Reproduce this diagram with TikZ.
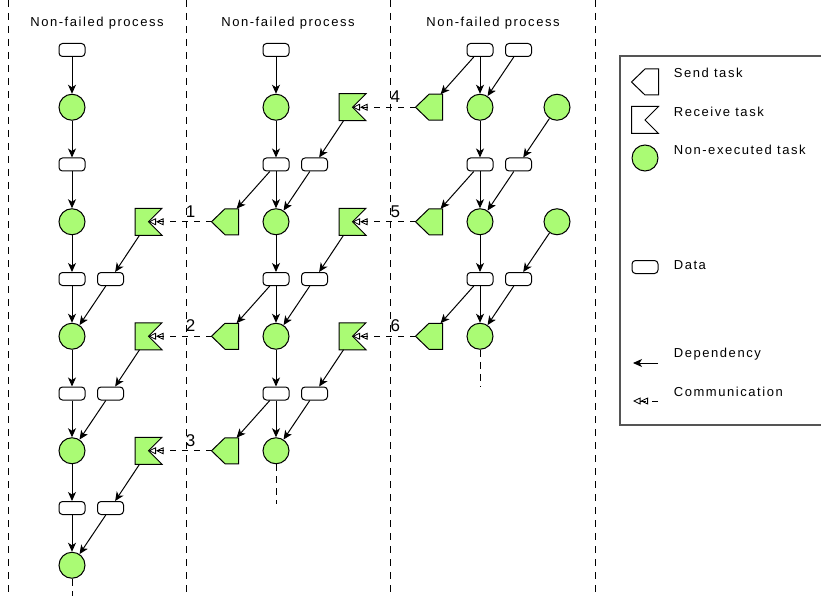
\documentclass[tikz,border=0pt]{standalone}
\usepackage{fontspec}
\setmainfont{Liberation Sans}[LetterSpace=12]
\usepackage{tikz}
\usetikzlibrary{positioning, arrows.meta}
\definecolor{taskfill}{HTML}{AAFB74}
\definecolor{legborder}{HTML}{555555}
\newcommand{\sendshape}[2][taskfill]{\draw[fill=#1] (#2.west) -- (#2.north) -- (#2.north east) -- (#2.south east) -- (#2.south) -- cycle;}
\newcommand{\recvshape}[2][taskfill]{\draw[fill=#1] (#2.north west) -- (#2.north east) -- (#2.center) -- (#2.south east) -- (#2.south west) -- cycle;}

\begin{document}
\begin{tikzpicture}[
    x=1pt, y=-1pt,
    line width=1pt,
    >={Stealth[length=9pt, width=8pt, inset=2.5pt]},
    node distance=36.75pt and 11.5pt,
    task/.style={circle, draw, fill=taskfill, minimum size=26pt, inner sep=0pt},
    dat/.style={draw, rounded corners=3.5pt, minimum width=26pt, minimum height=13pt, inner sep=0pt},
    sendbox/.style={minimum width=26pt, minimum height=25pt, inner sep=0pt},
    recvbox/.style={minimum width=26pt, minimum height=26pt, inner sep=0pt},
    sep/.style={line width=1pt, dash pattern=on 7pt off 6pt},
    tail/.style={line width=1pt, dash pattern=on 7pt off 5pt},
    dep/.style={->},
    comm/.style={-{Triangle[open, length=7.5pt, width=7pt, line width=0.8pt] Triangle[open, length=7.5pt, width=7pt, line width=0.8pt]}, dash pattern=on 6pt off 6pt},
    title/.style={font=\fontsize{13}{15}\selectfont},
    legtext/.style={font=\fontsize{13}{15}\selectfont, anchor=west},
    num/.style={font=\fontsize{17}{19}\selectfont\addfontfeature{LetterSpace=0}, inner sep=0pt},
]
\useasboundingbox (0,0) rectangle (821,596);

% process lanes
\draw[sep] (8,0) -- (8,596);
\draw[sep] (186,0) -- (186,596);
\draw[sep] (390,0) -- (390,596);
\draw[sep] (595,0) -- (595,596);
\node[title] (t1) at (97,23.5) {Non-failed process};
\node[title] (t2) at (288,23.5) {Non-failed process};
\node[title] (t3) at (493,23.5) {Non-failed process};

% process 1
\node[dat] (d10) at (72,50) {};
\node[task, below=of d10] (c11) {};
\node[dat, below=of c11] (d12) {};
\node[task, below=of d12] (c13) {};
\node[recvbox, right=49.5pt of c13] (r13) {};
\node[dat, below=of c13] (d14) {};
\node[dat, right=of d14] (e14) {};
\node[task, below=of d14] (c15) {};
\node[recvbox, right=49.5pt of c15] (r15) {};
\node[dat, below=of c15] (d16) {};
\node[dat, right=of d16] (e16) {};
\node[task, below=of d16] (c17) {};
\node[recvbox, right=49.5pt of c17] (r17) {};
\node[dat, below=of c17] (d18) {};
\node[dat, right=of d18] (e18) {};
\node[task, below=of d18] (c19) {};
\recvshape{r13}
\recvshape{r15}
\recvshape{r17}

\draw[dep] (d10) -- (c11);
\draw[dep] (c11) -- (d12);
\draw[dep] (d12) -- (c13);
\draw[dep] (c13) -- (d14);
\draw[dep] (r13) -- (e14);
\draw[dep] (d14) -- (c15);
\draw[dep] (e14) -- (c15);
\draw[dep] (c15) -- (d16);
\draw[dep] (r15) -- (e16);
\draw[dep] (d16) -- (c17);
\draw[dep] (e16) -- (c17);
\draw[dep] (c17) -- (d18);
\draw[dep] (r17) -- (e18);
\draw[dep] (d18) -- (c19);
\draw[dep] (e18) -- (c19);
\coordinate[below=17pt of c19.south] (end1);
\draw[tail] (c19) -- (end1);

% process 2
\node[dat] (d20) at (276,50) {};
\node[task, below=of d20] (c21) {};
\node[recvbox, right=49.5pt of c21] (r21) {};
\node[dat, below=of c21] (d22) {};
\node[dat, right=of d22] (e22) {};
\node[task, below=of d22] (c23) {};
\node[sendbox, left=24pt of c23] (s23) {};
\node[recvbox, right=49.5pt of c23] (r23) {};
\node[dat, below=of c23] (d24) {};
\node[dat, right=of d24] (e24) {};
\node[task, below=of d24] (c25) {};
\node[sendbox, left=24pt of c25] (s25) {};
\node[recvbox, right=49.5pt of c25] (r25) {};
\node[dat, below=of c25] (d26) {};
\node[dat, right=of d26] (e26) {};
\node[task, below=of d26] (c27) {};
\node[sendbox, left=24pt of c27] (s27) {};
\sendshape{s23}
\sendshape{s25}
\sendshape{s27}
\recvshape{r21}
\recvshape{r23}
\recvshape{r25}

\draw[dep] (d20) -- (c21);
\draw[dep] (c21) -- (d22);
\draw[dep] (r21) -- (e22);
\draw[dep] (d22) -- (s23);
\draw[dep] (d22) -- (c23);
\draw[dep] (e22) -- (c23);
\draw[dep] (c23) -- (d24);
\draw[dep] (r23) -- (e24);
\draw[dep] (d24) -- (s25);
\draw[dep] (d24) -- (c25);
\draw[dep] (e24) -- (c25);
\draw[dep] (c25) -- (d26);
\draw[dep] (r25) -- (e26);
\draw[dep] (d26) -- (s27);
\draw[dep] (d26) -- (c27);
\draw[dep] (e26) -- (c27);
\coordinate[below=40pt of c27.south] (end2);
\draw[tail] (c27) -- (end2);

% process 3
\node[dat] (d30) at (480,50) {};
\node[dat, right=of d30] (e30) {};
\node[task, below=of d30] (c31) {};
\node[sendbox, left=24pt of c31] (s31) {};
\node[task, right=50pt of c31] (f31) {};
\node[dat, below=of c31] (d32) {};
\node[dat, right=of d32] (e32) {};
\node[task, below=of d32] (c33) {};
\node[sendbox, left=24pt of c33] (s33) {};
\node[task, right=50pt of c33] (f33) {};
\node[dat, below=of c33] (d34) {};
\node[dat, right=of d34] (e34) {};
\node[task, below=of d34] (c35) {};
\node[sendbox, left=24pt of c35] (s35) {};
\sendshape{s31}
\sendshape{s33}
\sendshape{s35}

\draw[dep] (d30) -- (s31);
\draw[dep] (d30) -- (c31);
\draw[dep] (e30) -- (c31);
\draw[dep] (c31) -- (d32);
\draw[dep] (f31) -- (e32);
\draw[dep] (d32) -- (s33);
\draw[dep] (d32) -- (c33);
\draw[dep] (e32) -- (c33);
\draw[dep] (c33) -- (d34);
\draw[dep] (f33) -- (e34);
\draw[dep] (d34) -- (s35);
\draw[dep] (d34) -- (c35);
\draw[dep] (e34) -- (c35);
\coordinate[below=37pt of c35.south] (end3);
\draw[tail] (c35) -- (end3);

% messages
\draw[comm] (s23.west) -- node[num, pos=0.33, above=4pt] {1} (r13.center);
\draw[comm] (s25.west) -- node[num, pos=0.33, above=4pt] {2} (r15.center);
\draw[comm] (s27.west) -- node[num, pos=0.33, above=4pt] {3} (r17.center);
\draw[comm] (s31.west) -- node[num, pos=0.32, above=4pt] {4} (r21.center);
\draw[comm] (s33.west) -- node[num, pos=0.32, above=4pt] {5} (r23.center);
\draw[comm] (s35.west) -- node[num, pos=0.32, above=4pt] {6} (r25.center);

% legend
\draw[legborder, line width=1.3pt] (620,56) rectangle (830,425);
\node[sendbox] (lsend) at (645,82) {};
\sendshape[white]{lsend}
\node[legtext] (lsendt) at (670,73) {Send task};
\node[recvbox] (lrecv) at (645,120) {};
\recvshape[white]{lrecv}
\node[legtext] (lrecvt) at (670,112) {Receive task};
\node[task] (ltask) at (645,158) {};
\node[legtext] (ltaskt) at (670,150) {Non-executed task};
\node[dat] (ldat) at (645,267) {};
\node[legtext] (ldatt) at (670,265) {Data};
\coordinate (ldepa) at (658,363);
\coordinate (ldepb) at (633,363);
\draw[dep] (ldepa) -- (ldepb);
\node[legtext] (ldept) at (670,354) {Dependency};
\coordinate (lcomma) at (658,401);
\coordinate (lcommb) at (633,401);
\draw[comm] (lcomma) -- (lcommb);
\node[legtext] (lcommt) at (670,392) {Communication};

\end{tikzpicture}
\end{document}
